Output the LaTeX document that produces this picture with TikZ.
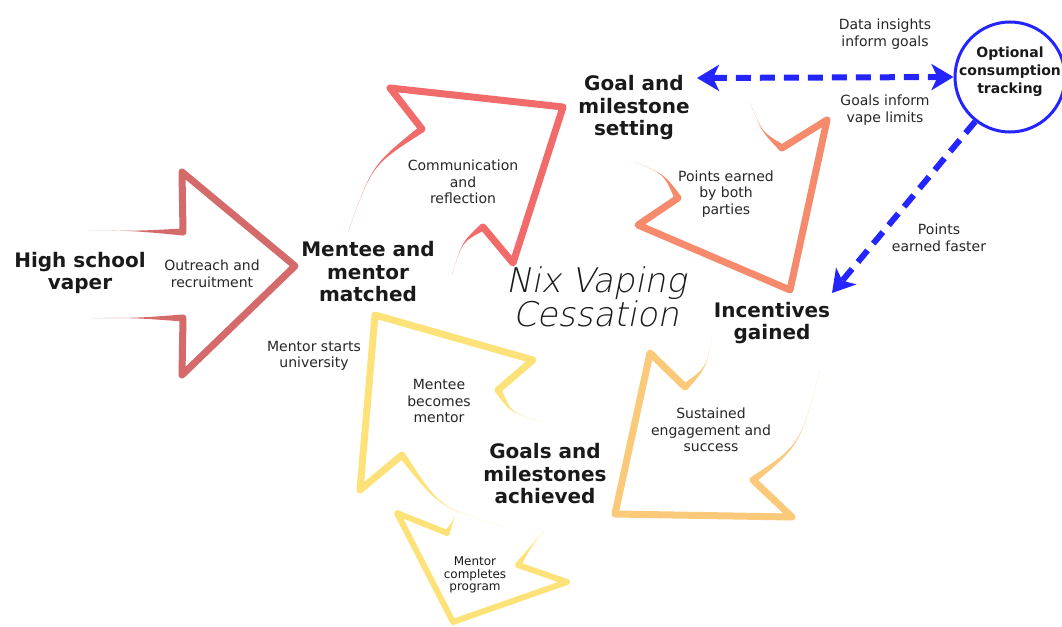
\documentclass[tikz,border=0pt]{standalone}
\usepackage{fontspec}
\setmainfont{DejaVu Sans}
\IfFontExistsTF{DejaVu Sans ExtraLight}
  {\newfontfamily\titlefont[FakeSlant=0.2]{DejaVu Sans ExtraLight}}
  {\newcommand\titlefont{\itshape}}
\usetikzlibrary{calc,arrows.meta}
\definecolor{cA}{HTML}{D46A6A}
\definecolor{cB}{HTML}{F26B6B}
\definecolor{cC}{HTML}{F58A6C}
\definecolor{cD}{HTML}{FBC97A}
\definecolor{cE}{HTML}{FDE27A}
\definecolor{cBlue}{HTML}{2424FF}
\definecolor{txt}{HTML}{1A1A1A}
\definecolor{txtb}{HTML}{262626}
\newcommand{\taper}[5]{% colour, thin end, control, thick end, half width
  \fill[#1] (#2) .. controls (#3) .. ($(#4)!#5!90:(#3)$) -- ($(#4)!#5!-90:(#3)$) .. controls (#3) .. (#2) -- cycle;}
\tikzset{
  head/.style={draw=#1, line width=7pt, line join=round, line cap=round},
  big/.style={font=\fontsize{20}{22.5}\selectfont\bfseries, align=center, text=txt, inner sep=0pt},
  small/.style={font=\fontsize{14}{16.5}\selectfont, align=center, text=txtb, inner sep=0pt},
  tinytext/.style={font=\fontsize{12}{12.5}\selectfont, align=center, text=txt, inner sep=0pt},
  titletext/.style={font=\fontsize{34}{26}\selectfont\titlefont, align=center, text=txt, inner sep=0pt},
  trackbox/.style={circle, draw=cBlue, line width=3pt, minimum size=110pt, inner sep=0pt},
  tracktext/.style={font=\fontsize{14}{18}\selectfont\bfseries, align=center, text=txt, inner sep=0pt},
  bluedash/.style={draw=cBlue, line width=6pt, dash pattern=on 15pt off 9pt,
     arrows={-Stealth[length=22pt,width=26pt,inset=6pt]}},
}
\begin{document}
\begin{tikzpicture}[x=1pt,y=-1pt]
\useasboundingbox (0,0) rectangle (1062,626);
% ---------- arrow 1 ----------
\coordinate (a1n1) at (183,232); \coordinate (a1w1) at (182,172);
\coordinate (a1t) at (295,266); \coordinate (a1w2) at (182,375);
\coordinate (a1n2) at (183,318);
\coordinate (a1e1) at (90,230); \coordinate (a1c1) at (136,231);
\coordinate (a1e2) at (92,318); \coordinate (a1c2) at (137,318);
\taper{cA}{a1e1}{a1c1}{a1n1}{3.5pt}
\taper{cA}{a1e2}{a1c2}{a1n2}{3.5pt}
\draw[head=cA] (a1n1) -- (a1w1) -- (a1t) -- (a1w2) -- (a1n2);
% ---------- arrow 2 ----------
\coordinate (a2n1) at (422,129); \coordinate (a2w1) at (390,88);
\coordinate (a2t) at (563,107); \coordinate (a2w2) at (513,263);
\coordinate (a2n2) at (483,227);
\coordinate (a2e1) at (348,232); \coordinate (a2c1) at (372,165);
\coordinate (a2e2) at (452,275); \coordinate (a2c2) at (462,242);
\taper{cB}{a2e1}{a2c1}{a2n1}{3.5pt}
\taper{cB}{a2e2}{a2c2}{a2n2}{3.5pt}
\draw[head=cB] (a2n1) -- (a2w1) -- (a2t) -- (a2w2) -- (a2n2);
% ---------- arrow 3 ----------
\coordinate (a3n1) at (782,148); \coordinate (a3w1) at (827,120);
\coordinate (a3t) at (790,290); \coordinate (a3w2) at (638,225);
\coordinate (a3n2) at (678,198);
\coordinate (a3e1) at (750,103); \coordinate (a3c1) at (762,132);
\coordinate (a3e2) at (635,162); \coordinate (a3c2) at (664,174);
\taper{cC}{a3e1}{a3c1}{a3n1}{3.5pt}
\taper{cC}{a3e2}{a3c2}{a3n2}{3.5pt}
\draw[head=cC] (a3n1) -- (a3w1) -- (a3t) -- (a3w2) -- (a3n2);
% ---------- arrow 4 ----------
\coordinate (a4n1) at (685,387); \coordinate (a4w1) at (650,353);
\coordinate (a4t) at (615,514); \coordinate (a4w2) at (792,517);
\coordinate (a4n2) at (753,480);
\coordinate (a4e1) at (712,337); \coordinate (a4c1) at (706,368);
\coordinate (a4e2) at (820,370); \coordinate (a4c2) at (800,445);
\taper{cD}{a4e1}{a4c1}{a4n1}{3.5pt}
\taper{cD}{a4e2}{a4c2}{a4n2}{3.5pt}
\draw[head=cD] (a4n1) -- (a4w1) -- (a4t) -- (a4w2) -- (a4n2);
% ---------- arrow 5 ----------
\coordinate (a5n1) at (498,390); \coordinate (a5w1) at (533,360);
\coordinate (a5t) at (375,315); \coordinate (a5w2) at (360,490);
\coordinate (a5n2) at (402,455);
\coordinate (a5e1) at (545,422); \coordinate (a5c1) at (512,414);
\coordinate (a5e2) at (505,527); \coordinate (a5c2) at (440,508);
\taper{cE}{a5e1}{a5c1}{a5n1}{3.5pt}
\taper{cE}{a5e2}{a5c2}{a5n2}{3.5pt}
\draw[head=cE] (a5n1) -- (a5w1) -- (a5t) -- (a5w2) -- (a5n2);
% ---------- arrow 6 ----------
\coordinate (a6n1) at (447,533); \coordinate (a6w1) at (397,513);
\coordinate (a6t) at (453,622); \coordinate (a6w2) at (567,582);
\coordinate (a6n2) at (518,565);
\coordinate (a6e1) at (458,510); \coordinate (a6c1) at (453,521);
\coordinate (a6e2) at (545,530); \coordinate (a6c2) at (531,547);
\taper{cE}{a6e1}{a6c1}{a6n1}{3pt}
\taper{cE}{a6e2}{a6c2}{a6n2}{3pt}
\draw[head=cE, line width=6pt] (a6n1) -- (a6w1) -- (a6t) -- (a6w2) -- (a6n2);
% ---------- texts ----------
\node[big] (hsv) at (80,273) {High school\\vaper};
\node[small] (outreach) at (212,274) {Outreach and\\recruitment};
\node[big] (matched) at (368,272) {Mentee and\\mentor\\matched};
\node[small] (comm) at (463,182) {Communication\\and\\reflection};
\node[big] (goal) at (634,108) {Goal and\\milestone\\setting};
\node[small] (points) at (726,194) {Points earned\\by both\\parties};
\node[titletext] (nix) at (596,297) {Nix Vaping\\Cessation};
\node[big] (inc) at (772,323) {Incentives\\gained};
\node[small] (sust) at (711,430) {Sustained\\engagement and\\success};
\node[big] (achieved) at (545,474) {Goals and\\milestones\\achieved};
\node[small] (becomes) at (439,401) {Mentee\\becomes\\mentor};
\node[small] (univ) at (314,356) {Mentor starts\\university};
\node[tinytext] (completes) at (475,575) {Mentor\\completes\\program};
\node[small] (data) at (885,34) {Data insights\\inform goals};
\node[small] (limits) at (885,110) {Goals inform\\vape limits};
\node[small] (faster) at (939,238) {Points\\earned faster};
\node[trackbox] (track) at (1010,77) {};
\node[tracktext] (tracklabel) at (1010,72) {Optional\\consumption\\tracking};
% ---------- blue dashed connectors ----------
\coordinate (goalport) at (697,78);
\coordinate (incport) at (832,293);
\draw[bluedash, arrows={Stealth[length=22pt,width=26pt,inset=6pt]-Stealth[length=22pt,width=26pt,inset=6pt]}]
  (goalport) -- (track.west);
\draw[bluedash] (track.-128) -- (incport);
\end{tikzpicture}
\end{document}
